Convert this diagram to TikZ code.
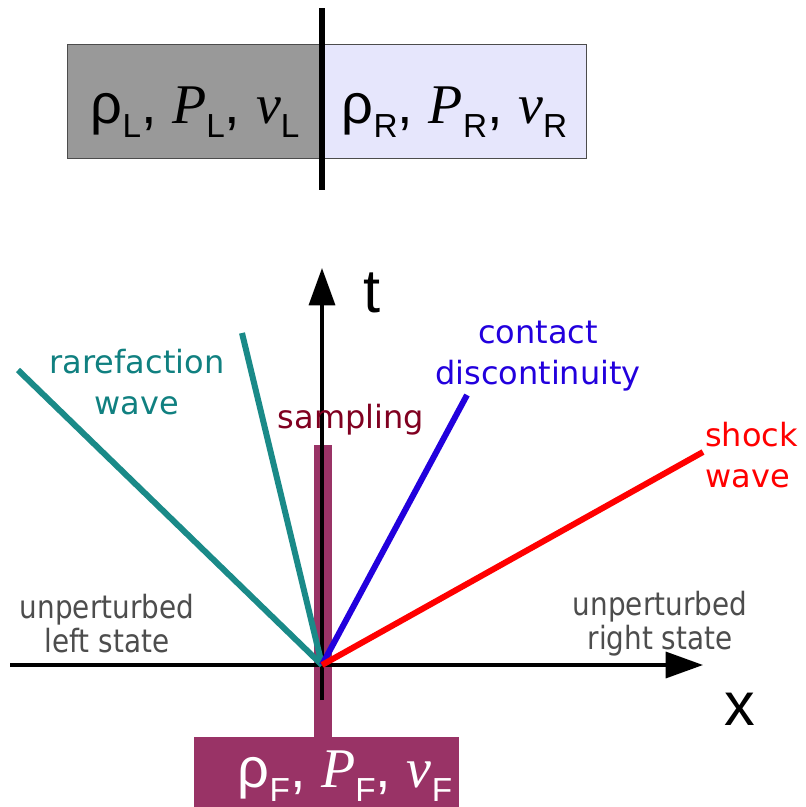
\documentclass[tikz,border=0pt]{standalone}
\usepackage{fontspec}
\setmainfont{DejaVu Sans}
\newfontfamily\condfont{DejaVu Sans}[FakeStretch=0.87]
\newfontfamily\subfont{Liberation Sans}
\newfontfamily\varfont{Liberation Serif}
\usetikzlibrary{positioning,arrows.meta}
\definecolor{leftgray}{RGB}{153,153,153}
\definecolor{rightlav}{RGB}{230,230,252}
\definecolor{sampcol}{RGB}{153,51,102}
\definecolor{samptext}{RGB}{128,0,32}
\definecolor{rarline}{RGB}{26,138,136}
\definecolor{rartext}{RGB}{16,128,128}
\definecolor{contblue}{RGB}{34,0,221}
\definecolor{statetext}{RGB}{77,77,77}
% quantity with a sans subscript
\newcommand\qsub[2]{#1\raisebox{-0.25em}{\subfont\fontsize{25pt}{25pt}\selectfont #2}}
\newcommand\qstate[1]{\subfont\qsub{ρ}{#1}, \qsub{{\varfont\itshape P}}{#1}, \qsub{{\varfont\itshape v}}{#1}}

\begin{document}
\begin{tikzpicture}[x=0.75pt,y=-0.75pt,
  statebox/.style={draw=black!70,line width=0.8pt,inner sep=0pt,
    minimum height=85.5pt,anchor=north west,text height=36pt,text depth=3pt,
    font=\fontsize{42pt}{42pt}\selectfont},
  wave/.style={line width=4.5pt},
  axis/.style={line width=2.6pt,-{Triangle[length=28pt,width=19.5pt]}},
  label/.style={font=\fontsize{24pt}{31pt}\selectfont,align=center,inner sep=0pt},
  statelabel/.style={font=\condfont\fontsize{24pt}{25.5pt}\selectfont,text=statetext,
    align=center,inner sep=0pt},
  axlabel/.style={font=\subfont\fontsize{46pt}{46pt}\selectfont,anchor=base,inner sep=0pt}
]
\useasboundingbox (0,0) rectangle (806,807);

% Top: initial states and the membrane
\node[statebox,fill=leftgray,minimum width=191.25pt] (left) at (67,44) {\qstate{L}\hspace{9pt}};
\node[statebox,fill=rightlav,minimum width=198pt] (right) at (322,44) {\qstate{R}};
\coordinate (divtop) at (322,8);
\coordinate (divbot) at (322,190);
\draw[line width=4.5pt] (divtop) -- (divbot);

% Sampling strip and result
\node[fill=sampcol,inner sep=0pt,minimum width=13.5pt,minimum height=219pt,anchor=north] (strip) at (323,445) {};
\node[fill=sampcol,inner sep=0pt,minimum width=198.75pt,minimum height=60pt,anchor=north west] (fbox) at (194,737) {};
\node[font=\fontsize{42pt}{42pt}\selectfont,text=white,anchor=base,inner sep=0pt] (ftext) at (345,787) {\qstate{F}};

% Axes
\coordinate (O) at (322,665);
\coordinate (xstart) at (10,665);
\coordinate (xend) at (703,665);
\coordinate (tstart) at (322,700);
\coordinate (tend) at (322,268);
\draw[axis] (xstart) -- (xend);
\draw[axis] (tstart) -- (tend);
\node[axlabel] (tlab) at (372,312) {t};
\node[axlabel] (xlab) at (740,725) {x};

% Waves from the origin
\coordinate (rarA) at (18,370);
\coordinate (rarB) at (242,333);
\coordinate (cont) at (467,395);
\coordinate (shock) at (703,452);
\draw[wave,rarline] (O) -- (rarA);
\draw[wave,rarline] (O) -- (rarB);
\draw[wave,contblue] (O) -- (cont);
\draw[wave,red] (O) -- (shock);

% Labels
\node[label,text=rartext] (rarlab) at (137,382) {rarefaction\\wave};
\node[label,text=contblue] (contlab) at (538,356) {contact\\discontinuity};
\node[label,text=red,align=left,anchor=west] (shocklab) at (705,455) {shock\\wave};
\node[label,text=samptext,anchor=base] (samplab) at (351,428) {sampling};
\node[statelabel] (leftstate) at (107,624) {unperturbed\\left state};
\node[statelabel] (rightstate) at (660,624) {unperturbed\\right state};

\end{tikzpicture}
\end{document}
